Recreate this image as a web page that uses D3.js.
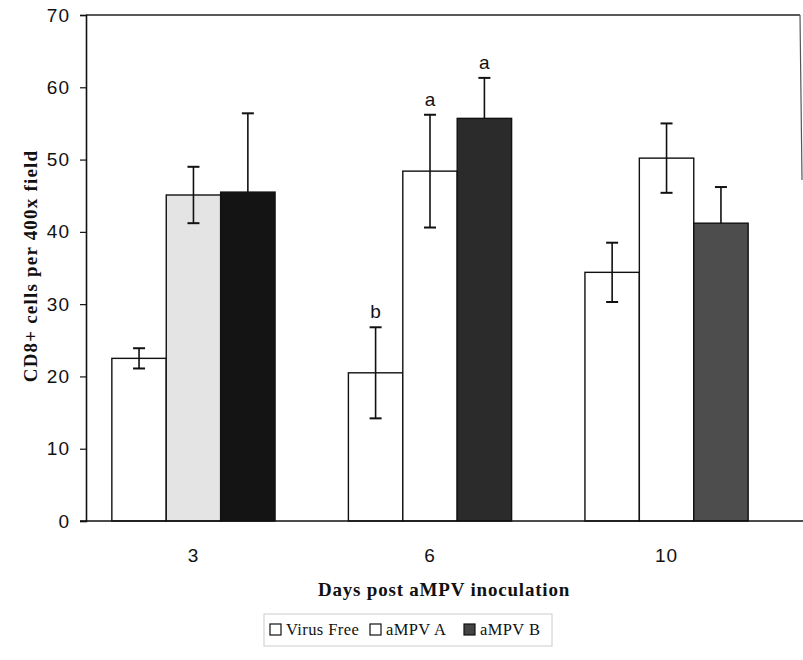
<!DOCTYPE html>
<html>
<head>
<meta charset="utf-8">
<script src="https://cdn.jsdelivr.net/npm/d3@7"></script>
<style>
  body { margin: 0; background: #fff; }
  svg { display: block; }
</style>
</head>
<body>
<svg id="chart" width="803" height="660"></svg>
<script>
// ---- data ----
const days = ["3", "6", "10"];
const seriesNames = ["Virus Free", "aMPV A", "aMPV B"];
const virusFree = [22.5, 20.5, 34.4];
const virusFreeErr = [1.4, 6.3, 4.1];
const ampvA = [45.1, 48.4, 50.2];
const ampvAErr = [3.9, 7.8, 4.8];
const ampvB = [45.5, 55.7, 41.2];
const ampvBErr = [10.9, 5.6, 5.0];
const sigLabels = [["", "", ""], ["b", "a", "a"], ["", "", ""]];
const yTicks = [0, 10, 20, 30, 40, 50, 60, 70];

// per-bar fills as they appear in the printed figure
const fills = [
  ["#ffffff", "#e4e4e4", "#141414"],
  ["#ffffff", "#ffffff", "#2b2b2b"],
  ["#ffffff", "#ffffff", "#4d4d4d"]
];

const values = [virusFree, ampvA, ampvB];
const errs = [virusFreeErr, ampvAErr, ampvBErr];

const svg = d3.select("#chart");
const plot = { left: 86, right: 800, top: 15, bottom: 521 };

const y = d3.scaleLinear().domain([0, 70]).range([plot.bottom, plot.top]);
const x0 = d3.scaleBand().domain(days).range([74, 786]).paddingInner(0.31).paddingOuter(0.16);
const x1 = d3.scaleBand().domain(seriesNames).range([0, x0.bandwidth()]);

// frame
svg.append("line").attr("x1", plot.left).attr("x2", plot.right).attr("y1", plot.top).attr("y2", plot.top)
  .attr("stroke", "#222").attr("stroke-width", 1.5);
svg.append("line").attr("x1", plot.right).attr("x2", plot.right + 2).attr("y1", plot.top).attr("y2", 180)
  .attr("stroke", "#555").attr("stroke-width", 1.2);

// bars
const groups = svg.append("g").selectAll("g").data(days).join("g")
  .attr("transform", d => `translate(${x0(d)},0)`);

groups.each(function(day, gi) {
  const g = d3.select(this);
  seriesNames.forEach((s, si) => {
    const v = values[si][gi];
    const e = errs[si][gi];
    const bx = x1(s);
    const bw = x1.bandwidth();
    g.append("rect")
      .attr("x", bx).attr("y", y(v))
      .attr("width", bw).attr("height", y(0) - y(v))
      .attr("fill", fills[gi][si]).attr("stroke", "#111").attr("stroke-width", 1.4);
    const cx = bx + bw / 2;
    const isDark = si === 2;
    const yLow = isDark ? y(v) : y(v - e);
    g.append("line").attr("x1", cx).attr("x2", cx).attr("y1", y(v + e)).attr("y2", yLow)
      .attr("stroke", "#111").attr("stroke-width", 1.6);
    g.append("line").attr("x1", cx - 6).attr("x2", cx + 6).attr("y1", y(v + e)).attr("y2", y(v + e))
      .attr("stroke", "#111").attr("stroke-width", 2);
    if (!isDark) {
      g.append("line").attr("x1", cx - 6).attr("x2", cx + 6).attr("y1", y(v - e)).attr("y2", y(v - e))
        .attr("stroke", "#111").attr("stroke-width", 2);
    }
    const lab = sigLabels[gi][si];
    if (lab) {
      g.append("text").attr("x", cx).attr("y", y(v + e) - 9)
        .attr("text-anchor", "middle")
        .attr("font-family", "Liberation Sans, Arial, sans-serif").attr("font-size", 19)
        .attr("fill", "#111").text(lab);
    }
  });
});

// y axis
const yAxis = d3.axisLeft(y).tickValues(yTicks).tickSize(6).tickPadding(10).tickFormat(d3.format("d"));
const ya = svg.append("g").attr("transform", `translate(${plot.left},0)`).call(yAxis);
ya.select(".domain").attr("stroke", "#111").attr("stroke-width", 1.6);
ya.selectAll(".tick line").attr("stroke", "#111").attr("stroke-width", 1.2);
ya.selectAll("text").attr("font-family", "Liberation Sans, Arial, sans-serif").attr("font-size", 19)
  .attr("letter-spacing", 1).attr("fill", "#111");

// x axis
const xAxis = d3.axisBottom(x0).tickSize(0).tickPadding(28);
const xa = svg.append("g").attr("transform", `translate(0,${plot.bottom})`).call(xAxis);
xa.select(".domain").remove();
xa.selectAll("text").attr("font-family", "Liberation Sans, Arial, sans-serif").attr("font-size", 19)
  .attr("letter-spacing", 1).attr("fill", "#111");
svg.append("line").attr("x1", 80).attr("x2", 803).attr("y1", plot.bottom).attr("y2", plot.bottom)
  .attr("stroke", "#111").attr("stroke-width", 1.6);

// axis titles
svg.append("text").attr("x", 444).attr("y", 596).attr("text-anchor", "middle")
  .attr("font-family", "Liberation Serif, Times New Roman, serif").attr("font-weight", "bold")
  .attr("font-size", 19).attr("letter-spacing", 0.8).attr("fill", "#111").text("Days post aMPV inoculation");
svg.append("text").attr("transform", "translate(37,266) rotate(-90)").attr("text-anchor", "middle")
  .attr("font-family", "Liberation Serif, Times New Roman, serif").attr("font-weight", "bold")
  .attr("font-size", 19).attr("letter-spacing", 1.2).attr("fill", "#111").text("CD8+ cells per 400x field");

// legend
const legendFills = ["#ffffff", "#ffffff", "#444444"];
const legend = svg.append("g");
legend.append("rect").attr("x", 264).attr("y", 614).attr("width", 288).attr("height", 32)
  .attr("fill", "none").attr("stroke", "#ccc").attr("stroke-width", 1);
const legX = [270, 370, 464];
seriesNames.forEach((s, i) => {
  legend.append("rect").attr("x", legX[i]).attr("y", 624).attr("width", 11).attr("height", 11)
    .attr("fill", legendFills[i]).attr("stroke", "#111").attr("stroke-width", 1.2);
  legend.append("text").attr("x", legX[i] + 16).attr("y", 635)
    .attr("font-family", "Liberation Serif, Times New Roman, serif").attr("font-size", 16.5)
    .attr("letter-spacing", 0.4).attr("fill", "#111").text(s);
});
</script>
</body>
</html>
